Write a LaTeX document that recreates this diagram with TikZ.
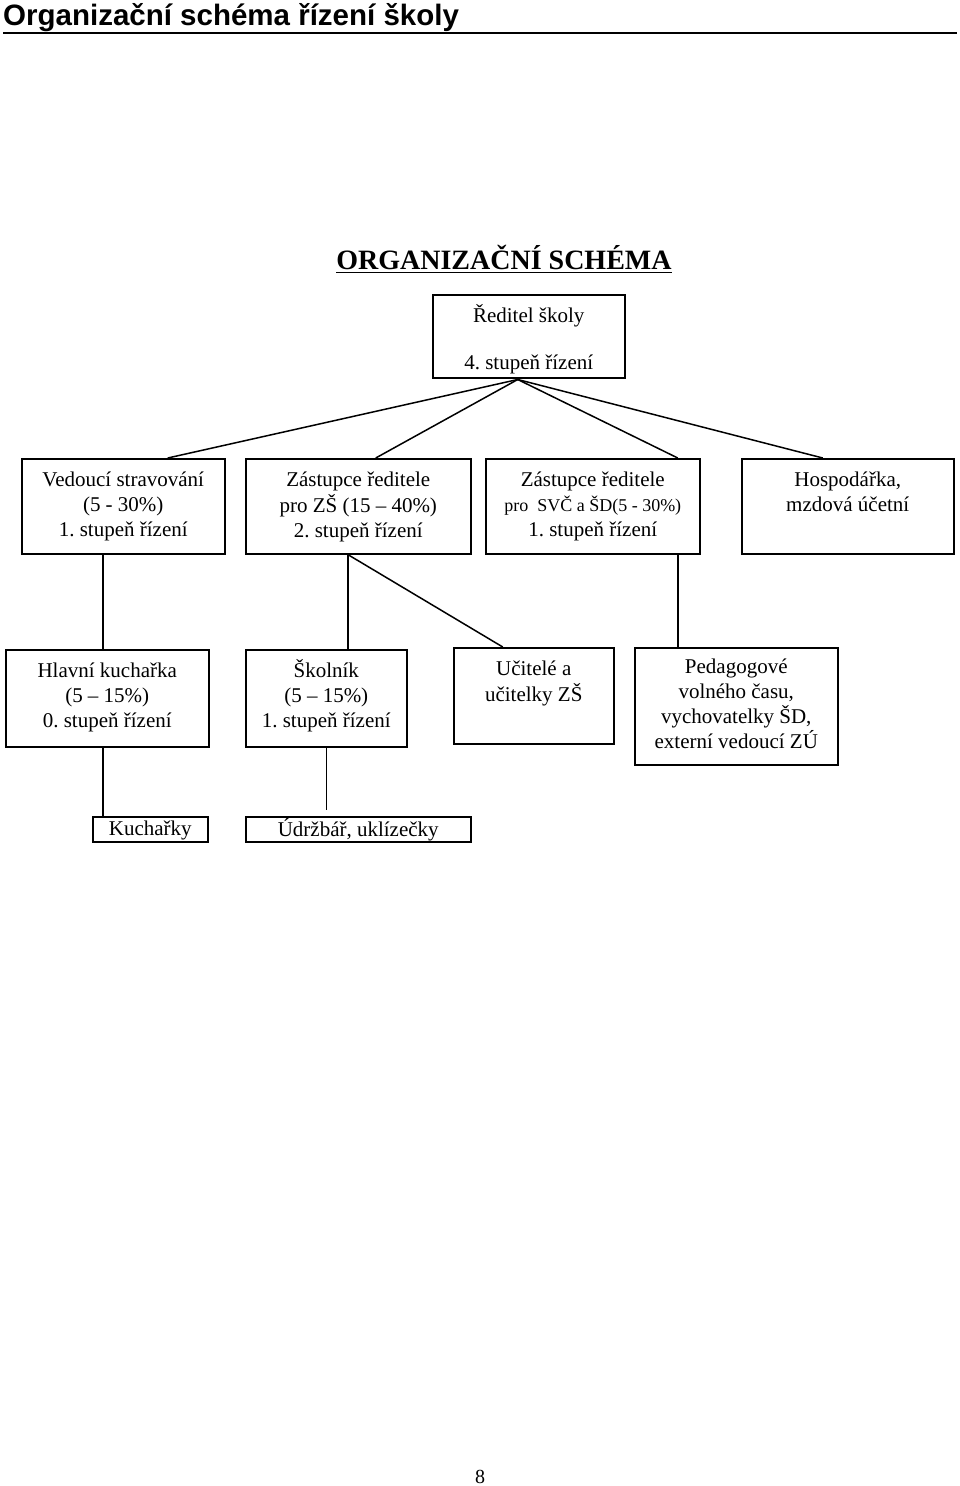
\documentclass[tikz,border=0pt]{standalone}
\usepackage{fontspec}
\setmainfont{Liberation Serif}
\newfontfamily\headfont{Liberation Sans}
\usetikzlibrary{positioning,calc}
\frenchspacing

% box body: width, height, text (top aligned)
\newcommand{\unitbody}[4][10pt]{\parbox[c][#3][t]{#2}{\centering\vspace*{#1}\strut #4}}

\tikzset{
  unit/.style={draw, line width=1.5pt, inner sep=0pt, anchor=north west, font=\fontsize{21}{25}\selectfont},
  link/.style={line width=1.5pt},
}

\begin{document}
\begin{tikzpicture}[x=1pt, y=-1pt]
\useasboundingbox (0,0) rectangle (960,1486);

% === HEADING ===
\node[font=\headfont\bfseries\fontsize{29.5}{32}\selectfont, anchor=base west, inner sep=0pt] (heading) at (3,25) {Organizační schéma řízení školy};
\draw[line width=2.2pt] (3,33) -- (957,33);

\node[font=\bfseries\fontsize{28}{32}\selectfont, anchor=base, inner sep=0pt] (schema) at (504,269) {ORGANIZAČNÍ SCHÉMA};
\draw[line width=1.8pt] ([yshift=-3.5pt]schema.base west) -- ([yshift=-3.5pt]schema.base east);

% === TOP: director ===
\node[unit] (reditel) at (432,294) {\unitbody{192pt}{83pt}{Ředitel školy\\[22pt]4. stupeň řízení}};

% === LEVEL 2 ===
\node[unit] (vedouci) at (21,458) {\unitbody{203pt}{95pt}{Vedoucí stravování\\(5 - 30\%)\\1. stupeň řízení}};
\node[unit] (zastzs) at (245,458) {\unitbody{225pt}{95pt}{Zástupce ředitele\\pro ZŠ (15 – 40\%)\\2. stupeň řízení}};
\node[unit] (zastsvc) at (485,458) {\unitbody{214pt}{95pt}{Zástupce ředitele\\{\fontsize{18}{25}\selectfont pro\ \ SVČ a ŠD(5 - 30\%)}\\1. stupeň řízení}};
\node[unit] (hosp) at (741,458) {\unitbody{212pt}{95pt}{Hospodářka,\\mzdová účetní}};

% === LEVEL 3 ===
\node[unit] (hlavni) at (5,649) {\unitbody{203pt}{97pt}{Hlavní kuchařka\\(5 – 15\%)\\0. stupeň řízení}};
\node[unit] (skolnik) at (245,649) {\unitbody{161pt}{97pt}{Školník\\(5 – 15\%)\\1. stupeň řízení}};
\node[unit] (ucitele) at (453,647) {\unitbody{160pt}{96pt}{Učitelé a\\učitelky ZŠ}};
\node[unit] (pedagog) at (634,647) {\unitbody[8pt]{203pt}{117pt}{Pedagogové\\volného času,\\vychovatelky ŠD,\\externí vedoucí ZÚ}};

% === LEVEL 4 ===
\node[unit] (kucharky) at (92,816) {\unitbody[1.5pt]{115pt}{25pt}{Kuchařky}};
\node[unit] (udrzbar) at (245,816) {\unitbody[1.5pt]{225pt}{25pt}{Údržbář, uklízečky}};

% === LINKS ===
\coordinate (hub) at ([xshift=-11pt,yshift=-1pt]reditel.south);
\foreach \n/\dx in {vedouci/44.5, zastzs/17.5, zastsvc/85, hosp/-25}
  \draw[link] (hub) -- ([xshift=\dx pt]\n.north);

\draw[link] ([xshift=-20.5pt]vedouci.south) -- ([xshift=-20.5pt]vedouci.south |- hlavni.north);
\coordinate (zsfoot) at ([xshift=-10.5pt]zastzs.south);
\draw[link] (zsfoot) -- (zsfoot |- skolnik.north);
\draw[link] (zsfoot) -- ([xshift=-31pt]ucitele.north);
\draw[link] ([xshift=85pt]zastsvc.south) -- ([xshift=85pt]zastsvc.south |- pedagog.north);
\draw[link] ([xshift=-4.5pt]hlavni.south) -- ([xshift=-4.5pt]hlavni.south |- kucharky.north);
\draw[link, shorten >=6pt] (skolnik.south) -- (skolnik.south |- udrzbar.north);

% page number
\node[font=\fontsize{20}{22}\selectfont, inner sep=0pt, anchor=base] (pagenum) at (480,1483) {8};

\end{tikzpicture}
\end{document}
